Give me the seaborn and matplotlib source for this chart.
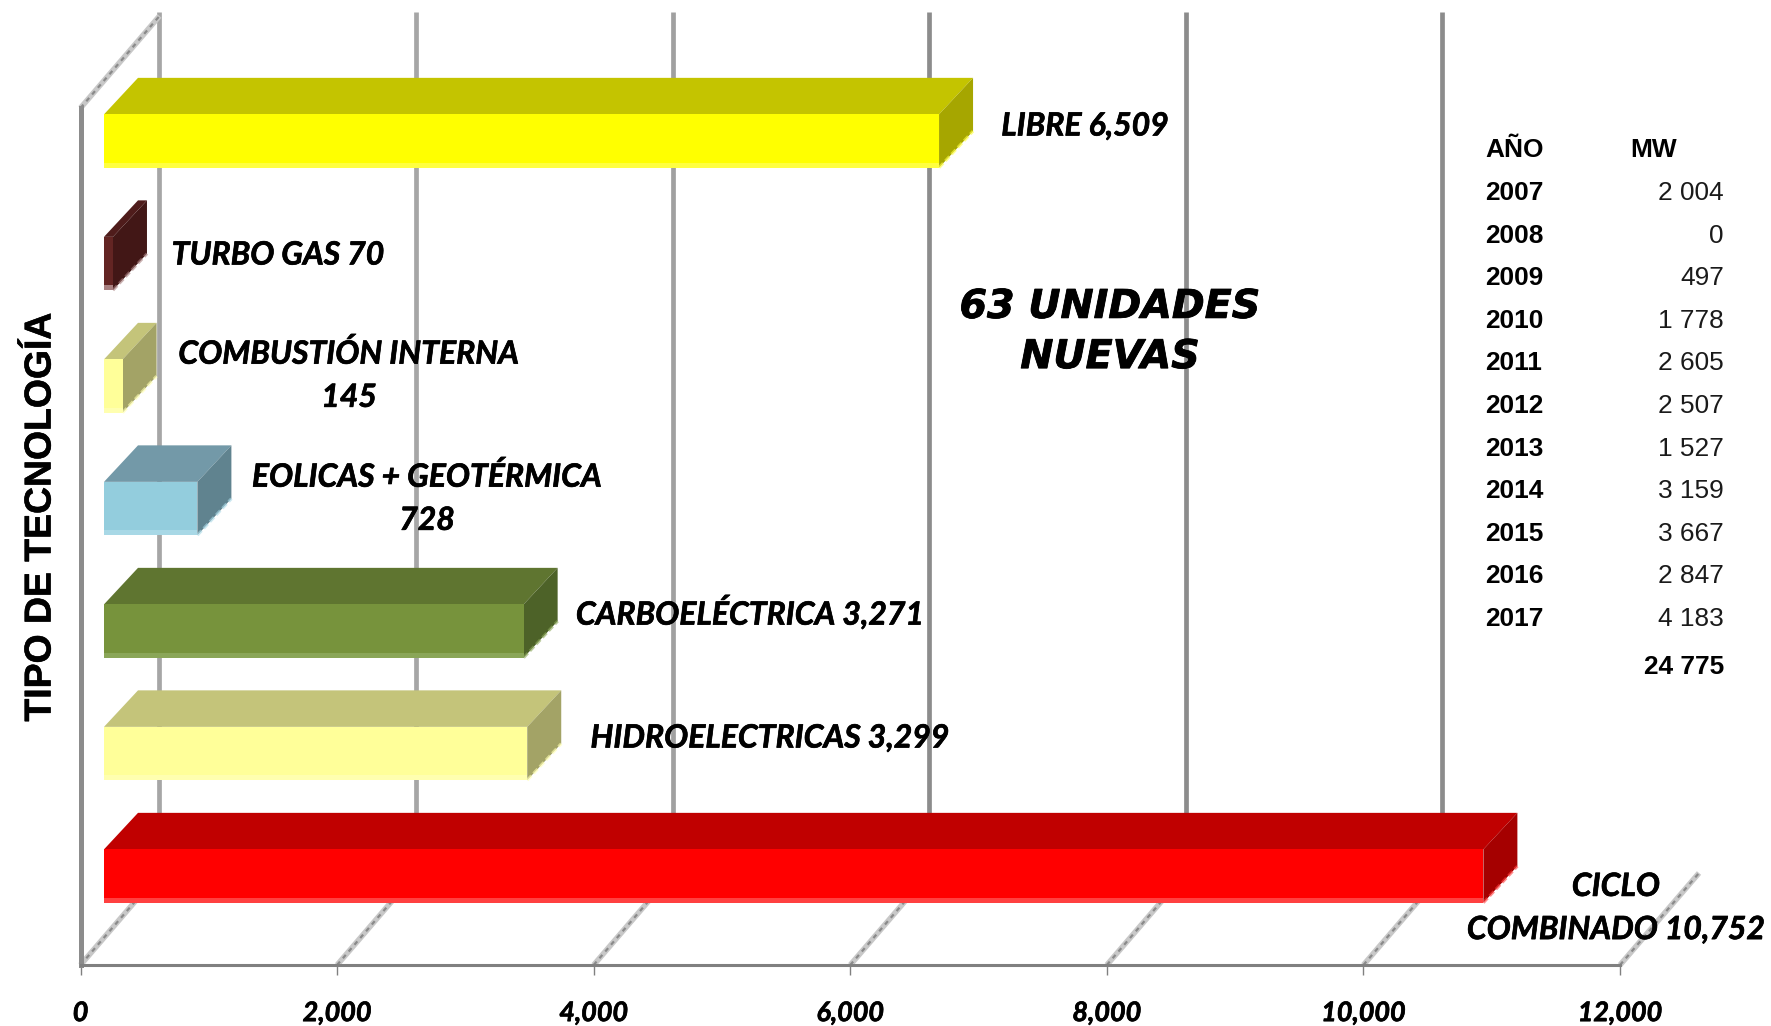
import matplotlib
matplotlib.use("Agg")
import numpy as np
import matplotlib.pyplot as plt
from matplotlib.patches import Polygon
import matplotlib.patheffects as pe
import seaborn as sns

# Installed capacity by technology
technologies = ["LIBRE", "TURBO GAS", "COMBUSTIÓN INTERNA", "EOLICAS + GEOTÉRMICA",
                "CARBOELÉCTRICA", "HIDROELECTRICAS", "CICLO COMBINADO"]
capacity_mw = [6509, 70, 145, 728, 3271, 3299, 10752]
front_colors = ["#ffff00", "#632523", "#ffff99", "#93cddd", "#77933c", "#ffff99", "#ff0000"]
top_colors = ["#c4c400", "#4f1c1b", "#c4c47a", "#7399a8", "#5f7530", "#c4c47a", "#c00000"]
side_colors = ["#a6a600", "#421716", "#a3a366", "#60838f", "#4d6228", "#a3a366", "#a50000"]
edge_colors = ["#ffff40", "#a88080", "#ffffb0", "#a8d8e6", "#8aa658", "#ffffb0", "#ff4040"]
tick_values = [0, 2000, 4000, 6000, 8000, 10000, 12000]

# Yearly additions shown in the side table
years = ["2007", "2008", "2009", "2010", "2011", "2012", "2013", "2014", "2015", "2016", "2017"]
year_mw = ["2 004", "0", "497", "1 778", "2 605", "2 507", "1 527", "3 159", "3 667", "2 847", "4 183"]
total_mw = "24 775"

W, H = 1771, 1026
sns.set_theme(style="white")
plt.rcParams["font.family"] = ["Lato", "DejaVu Sans"]

# Pixel scale of the value and category axes
PX_PER_MW = 0.1283
PX_PER_CAT = 122.5
X0, X12K, FLOOR = 80.5, 1620.0, 965.0
FRONT_SHIFT = 23.5 / PX_PER_MW       # bars stand in front of the wall by this many MW
CAT0_Y = 141.0

fig = plt.figure(figsize=(W / 100, H / 100), dpi=100, facecolor="white")
ax = fig.add_axes([X0 / W, (H - FLOOR) / H, (X12K - X0) / W, FLOOR / H])
ax.set_facecolor("none")

BAR_WIDTH = 0.435
sns.barplot(x=capacity_mw, y=technologies, hue=technologies, palette=front_colors,
            width=BAR_WIDTH, saturation=1, legend=False, dodge=False, ax=ax, zorder=4,
            linewidth=0, edgecolor="none")
ax.set_xlim(-FRONT_SHIFT, 12000 - FRONT_SHIFT)
ax.set_ylim((FLOOR - CAT0_Y) / PX_PER_CAT, -CAT0_Y / PX_PER_CAT)

# Box depth of each bar and of the whole chart floor
bar_dx, bar_dy = 34 / PX_PER_MW, 36.5 / PX_PER_CAT
wall_dx, wall_dy = 79 / PX_PER_MW, 92 / PX_PER_CAT

# Back-wall gridlines and dashed floor lines
ticks = np.array(tick_values) - FRONT_SHIFT
wall_top = (108 - CAT0_Y) / PX_PER_CAT
floor_y = (FLOOR - CAT0_Y) / PX_PER_CAT
grid_colors = ["#a6a6a6", "#a6a6a6", "#a0a0a0", "#8c8c8c", "#8c8c8c", "#8c8c8c"]
ax.vlines(ticks[:-1] + wall_dx, (12 - CAT0_Y) / PX_PER_CAT, (878 - CAT0_Y) / PX_PER_CAT,
          colors=grid_colors, linewidth=3.4, zorder=1, clip_on=False)

def dashed_depth_line(x_start, y_start):
    xs = [x_start, x_start + wall_dx]
    ys = [y_start, y_start - wall_dy]
    ax.plot(xs, ys, color="#c8c8c8", lw=4.0, zorder=1.5, clip_on=False, solid_capstyle="butt")
    ax.plot(xs, ys, color="#8a8a8a", lw=1.6, ls=(0, (2, 2)), zorder=1.6, clip_on=False)

for t in ticks:
    dashed_depth_line(t, floor_y)
dashed_depth_line(ticks[0], wall_top)

# Top and side faces, plus the pale lower edge of every box
half = BAR_WIDTH / 2
strip = 5 / PX_PER_CAT
for i, v in enumerate(capacity_mw):
    top = i - half
    bottom = i + half
    ax.add_patch(Polygon([(0, top), (v, top), (v + bar_dx, top - bar_dy), (bar_dx, top - bar_dy)],
                         closed=True, facecolor=top_colors[i], edgecolor="none", zorder=3.5))
    ax.add_patch(Polygon([(v, top), (v + bar_dx, top - bar_dy), (v + bar_dx, bottom - bar_dy), (v, bottom)],
                         closed=True, facecolor=side_colors[i], edgecolor="none", zorder=3.5))
    ax.barh(bottom - strip / 2, v, height=strip, color=edge_colors[i], linewidth=0, zorder=4.5)
    ax.plot([v, v + bar_dx], [bottom, bottom - bar_dy], color=edge_colors[i], lw=2.2, alpha=0.6,
            ls=(0, (2, 1)), zorder=3.6)

# Axes frame and value ticks
for name in ["top", "right"]:
    ax.spines[name].set_visible(False)
ax.spines["left"].set_color("#8c8c8c")
ax.spines["left"].set_linewidth(3.6)
ax.spines["left"].set_bounds(floor_y, wall_top)
ax.spines["bottom"].set_color("#808080")
ax.spines["bottom"].set_linewidth(2.2)
ax.set_yticks([])
ax.set_ylabel("")
ax.set_xticks(ticks, [f"{t:,}" for t in tick_values])
ax.tick_params(axis="x", length=7, width=1, color="#808080", pad=19, labelsize=19.4, bottom=True)
heavier = [pe.withStroke(linewidth=0.5, foreground="black")]
for lab in ax.get_xticklabels():
    lab.set_fontweight("bold")
    lab.set_fontstyle("italic")
    lab.set_color("black")
    lab.set_path_effects(heavier)

ARIAL = ["Liberation Sans", "DejaVu Sans"]

fig.text(41 / W, 1 - 517 / H, "TIPO DE TECNOLOGÍA", rotation=90, ha="center", va="center",
         family=ARIAL, fontweight="bold", fontsize=26.9, color="black",
         path_effects=[pe.withStroke(linewidth=0.4, foreground="black")])

# Value labels next to each box
def bar_label(x, y, text):
    fig.text(x / W, 1 - y / H, text, ha="center", va="center", fontsize=23.0, fontweight="bold",
             fontstyle="italic", color="black", linespacing=1.59, zorder=6, path_effects=heavier)

bar_label(1085, 126, f"{technologies[0]} {capacity_mw[0]:,}")
bar_label(278, 255, f"{technologies[1]} {capacity_mw[1]:,}")
bar_label(349, 375, f"{technologies[2]}\n{capacity_mw[2]:,}")
bar_label(427, 498, f"{technologies[3]}\n{capacity_mw[3]:,}")
bar_label(750, 612, f"{technologies[4]} {capacity_mw[4]:,}")
bar_label(770, 738, f"{technologies[5]} {capacity_mw[5]:,}")
bar_label(1616, 908, f"CICLO\nCOMBINADO {capacity_mw[6]:,}")

fig.text(1110 / W, 1 - 332 / H, "63 UNIDADES\nNUEVAS", ha="center", va="center",
         family=["DejaVu Sans"], fontsize=28.5, fontweight="bold", fontstyle="oblique",
         color="black", linespacing=1.33, zorder=6,
         path_effects=[pe.withStroke(linewidth=0.6, foreground="black")])

# Side table of yearly additions
TABLE_FS = 18.9
fig.text(1485 / W, 1 - 150 / H, "AÑO", ha="left", va="center", family=ARIAL, fontweight="bold",
         fontsize=TABLE_FS, color="black")
fig.text(1630 / W, 1 - 150 / H, "MW", ha="left", va="center", family=ARIAL, fontweight="bold",
         fontsize=TABLE_FS, color="black")
for i, (yr, mw) in enumerate(zip(years, year_mw)):
    y = 1 - (193 + 42.6 * i) / H
    fig.text(1485 / W, y, yr, ha="left", va="center", family=ARIAL, fontweight="bold",
             fontsize=TABLE_FS, color="black")
    fig.text(1724 / W, y, mw, ha="right", va="center", family=ARIAL, fontsize=TABLE_FS, color="#1a1a1a")
fig.text(1724 / W, 1 - 667 / H, total_mw, ha="right", va="center", family=ARIAL, fontweight="bold",
         fontsize=TABLE_FS, color="black")

fig.savefig("out.png", dpi=100)
